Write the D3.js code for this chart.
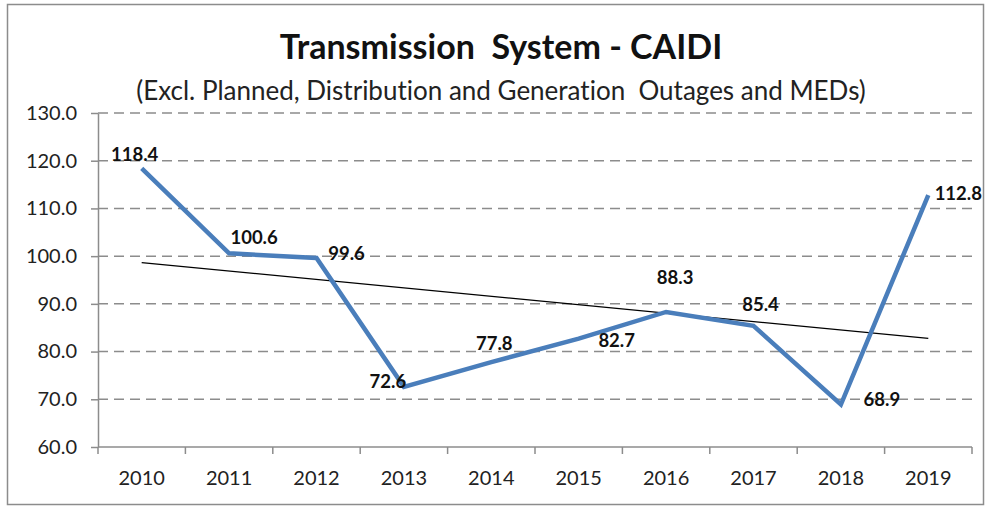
<!DOCTYPE html>
<html>
<head>
<meta charset="utf-8">
<script src="https://cdn.jsdelivr.net/npm/d3@7"></script>
<style>
  body { margin: 0; background: #fff; }
  svg { display: block; font-family: Lato, "Open Sans", sans-serif; font-variant-ligatures: none; }
</style>
</head>
<body>
<svg id="chart" width="992" height="508"></svg>
<script>
// data
var years = ["2010", "2011", "2012", "2013", "2014", "2015", "2016", "2017", "2018", "2019"];
var caidi = [118.4, 100.6, 99.6, 72.6, 77.8, 82.7, 88.3, 85.4, 68.9, 112.8];
var yTicks = [60, 70, 80, 90, 100, 110, 120, 130];

// hand placed label offsets (like the excel chart)
var labelOff = [[-7, -7], [25, -9], [30, 2], [-16, 1], [3, -12], [38, 8], [9, -28], [7, -15], [41, 1], [30, 5]];

var svg = d3.select("#chart");

var pLeft = 98, pRight = 972, pTop = 113, pBottom = 447;

var x = d3.scaleBand().domain(years).range([pLeft, pRight]);
var y = d3.scaleLinear().domain([60, 130]).range([pBottom, pTop]);
var cx = function(d) { return x(d) + x.bandwidth() / 2; };

// outer frame
svg.append("rect")
    .attr("x", 7.5).attr("y", 4.5)
    .attr("width", 976).attr("height", 500)
    .attr("fill", "none")
    .attr("stroke", "#8c8c8c")
    .attr("stroke-width", 1.5);

// titles
svg.append("text")
    .attr("x", 501).attr("y", 59)
    .attr("text-anchor", "middle")
    .attr("font-size", 34)
    .attr("font-weight", "bold")
    .attr("fill", "#111")
    .style("white-space", "pre")
    .text("Transmission  System - CAIDI");

svg.append("text")
    .attr("x", 501).attr("y", 100)
    .attr("text-anchor", "middle")
    .attr("font-size", 26)
    .attr("fill", "#222")
    .style("white-space", "pre")
    .text("(Excl. Planned, Distribution and Generation  Outages and MEDs)");

// grid
svg.append("g")
    .selectAll("line")
    .data(yTicks.slice(1))
    .enter().append("line")
      .attr("x1", pLeft).attr("x2", pRight)
      .attr("y1", function(d) { return y(d); })
      .attr("y2", function(d) { return y(d); })
      .attr("stroke", "#8c8c8c")
      .attr("stroke-width", 1.5)
      .attr("stroke-dasharray", "10,6");

// y axis
var yAxis = svg.append("g")
    .attr("transform", "translate(" + pLeft + ",0)")
    .call(d3.axisLeft(y).tickValues(yTicks).tickFormat(d3.format(".1f")).tickSize(7).tickSizeOuter(0).tickPadding(14));
yAxis.selectAll("path, line").attr("stroke", "#8c8c8c").attr("stroke-width", 1.5);
yAxis.selectAll("text").attr("font-size", 20).attr("fill", "#222").attr("font-family", "Lato");

// x axis
var xAxis = svg.append("g")
    .attr("transform", "translate(0," + pBottom + ")");
xAxis.append("line")
    .attr("x1", pLeft).attr("x2", pRight)
    .attr("stroke", "#8c8c8c").attr("stroke-width", 1.5);
xAxis.selectAll(".tk")
    .data(years.concat(["end"]))
    .enter().append("line")
      .attr("class", "tk")
      .attr("x1", function(d, i) { return pLeft + i * x.bandwidth(); })
      .attr("x2", function(d, i) { return pLeft + i * x.bandwidth(); })
      .attr("y1", 0).attr("y2", 7)
      .attr("stroke", "#8c8c8c").attr("stroke-width", 1.5);
xAxis.selectAll(".yr")
    .data(years)
    .enter().append("text")
      .attr("class", "yr")
      .attr("x", cx)
      .attr("y", 38)
      .attr("text-anchor", "middle")
      .attr("font-size", 20)
      .attr("fill", "#222")
      .text(function(d) { return d; });

// linear trendline
var n = years.length;
var mx = d3.mean(d3.range(n));
var my = d3.mean(caidi);
var slope = d3.sum(d3.range(n), function(i) { return (i - mx) * (caidi[i] - my); }) /
            d3.sum(d3.range(n), function(i) { return (i - mx) * (i - mx); });
svg.append("line")
    .attr("x1", cx(years[0])).attr("y1", y(my - slope * mx))
    .attr("x2", cx(years[n - 1])).attr("y2", y(my + slope * (n - 1 - mx)))
    .attr("stroke", "#000")
    .attr("stroke-width", 1.2);

// series line
var line = d3.line()
    .x(function(d, i) { return cx(years[i]); })
    .y(function(d) { return y(d); });

svg.append("path")
    .datum(caidi)
    .attr("d", line)
    .attr("fill", "none")
    .attr("stroke", "#4a7ebb")
    .attr("stroke-width", 4.5)
    .attr("stroke-linejoin", "miter");

// data labels
svg.append("g")
    .selectAll("text")
    .data(caidi)
    .enter().append("text")
      .attr("x", function(d, i) { return cx(years[i]) + labelOff[i][0]; })
      .attr("y", function(d, i) { return y(d) + labelOff[i][1]; })
      .attr("text-anchor", "middle")
      .attr("font-size", 18.5)
      .attr("font-weight", "bold")
      .attr("fill", "#111")
      .text(function(d) { return d.toFixed(1); });
</script>
</body>
</html>
